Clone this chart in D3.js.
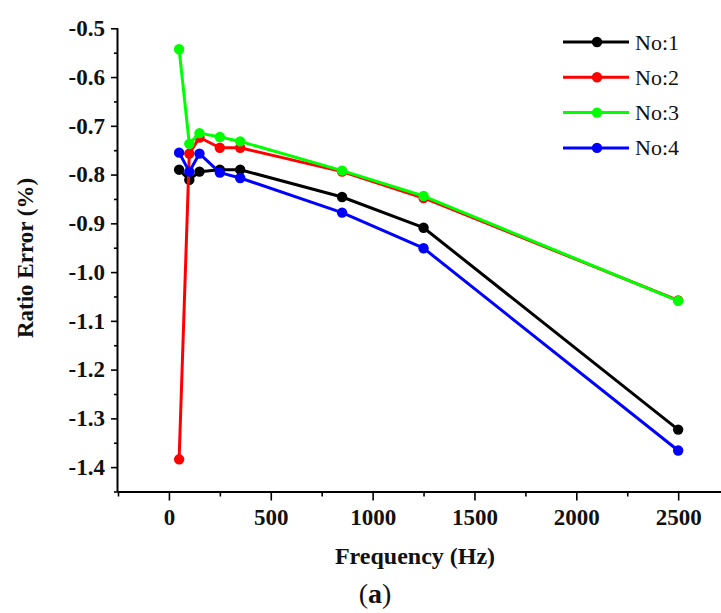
<!DOCTYPE html>
<html>
<head>
<meta charset="utf-8">
<script src="https://cdn.jsdelivr.net/npm/d3@7"></script>
<style>
  html, body { margin: 0; padding: 0; background: #fff; }
  svg { display: block; }
</style>
</head>
<body>
<svg id="chart" width="721" height="613"></svg>
<script>
const frequencies = [50, 100, 150, 250, 350, 850, 1250, 2500];
const seriesNames = ["No:1", "No:2", "No:3", "No:4"];
const seriesColors = ["#000000", "#ff0000", "#00ff00", "#0000ff"];
const no1 = [-0.790, -0.811, -0.794, -0.790, -0.790, -0.846, -0.909, -1.323];
const no2 = [-1.384, -0.757, -0.724, -0.745, -0.745, -0.794, -0.848, -1.058];
const no3 = [-0.543, -0.737, -0.715, -0.723, -0.732, -0.792, -0.844, -1.059];
const no4 = [-0.755, -0.794, -0.757, -0.796, -0.807, -0.878, -0.951, -1.366];
const seriesValues = [no1, no2, no3, no4];
const xMajorTicks = [0, 500, 1000, 1500, 2000, 2500];
const xMinorTicks = [-250, 250, 750, 1250, 1750, 2250, 2750];
const yMajorTicks = [-0.5, -0.6, -0.7, -0.8, -0.9, -1.0, -1.1, -1.2, -1.3, -1.4];
const yMinorTicks = [-0.55, -0.65, -0.75, -0.85, -0.95, -1.05, -1.15, -1.25, -1.35, -1.45];

const svg = d3.select("#chart");
const mLeft = 118, mTop = 28.3, mBottom = 491.5;
const x = d3.scaleLinear().domain([-250, 2750]).range([mLeft, mLeft + 3000 * 0.2037]);
const y = d3.scaleLinear().domain([-1.45, -0.5]).range([mBottom, mTop]);

const fontSerif = "'Liberation Serif', 'Times New Roman', serif";

// X axis
const gx = svg.append("g").attr("transform", `translate(0,${mBottom})`);
gx.call(d3.axisBottom(x).tickValues(xMinorTicks).tickSize(5).tickFormat(""));
gx.call(g => g.select(".domain").remove());
const gxM = svg.append("g").attr("transform", `translate(0,${mBottom})`);
gxM.call(d3.axisBottom(x).tickValues(xMajorTicks).tickSize(9).tickPadding(8).tickFormat(d3.format("d")));
gxM.select(".domain").attr("d", `M${mLeft},0.5H${x(2750)}`).attr("stroke-width", 2);
gxM.selectAll("text")
  .attr("font-family", fontSerif).attr("font-weight", "bold").attr("font-size", 23).attr("fill", "#111");

// Y axis
const gy = svg.append("g").attr("transform", `translate(${mLeft},0)`);
gy.call(d3.axisLeft(y).tickValues(yMinorTicks).tickSize(4).tickFormat(""));
gy.call(g => g.select(".domain").remove());
const gyM = svg.append("g").attr("transform", `translate(${mLeft},0)`);
gyM.call(d3.axisLeft(y).tickValues(yMajorTicks).tickSize(7).tickPadding(6).tickFormat(d => d3.format(".1f")(d).replace("−", "-")));
gyM.select(".domain").attr("d", `M-0.5,${mTop}V${mBottom}`).attr("stroke-width", 2);
gyM.selectAll("text")
  .attr("font-family", fontSerif).attr("font-weight", "bold").attr("font-size", 23).attr("fill", "#111");
svg.selectAll("g .tick line").attr("stroke-width", 1.6);

// Axis titles
svg.append("text")
  .attr("x", 415).attr("y", 564)
  .attr("text-anchor", "middle")
  .attr("font-family", fontSerif).attr("font-weight", "bold").attr("font-size", 24)
  .attr("fill", "#111")
  .text("Frequency (Hz)");
svg.append("text")
  .attr("transform", "translate(33,258) rotate(-90)")
  .attr("text-anchor", "middle")
  .attr("font-family", fontSerif).attr("font-weight", "bold").attr("font-size", 23)
  .attr("fill", "#111")
  .text("Ratio Error (%)");
const cap = svg.append("text")
  .attr("x", 375).attr("y", 603)
  .attr("text-anchor", "middle")
  .attr("font-family", fontSerif).attr("font-size", 28).attr("fill", "#111");
cap.append("tspan").text("(");
cap.append("tspan").attr("font-weight", "bold").text("a");
cap.append("tspan").text(")");

// Series
const line = d3.line().x((d, i) => x(frequencies[i])).y(d => y(d));
seriesValues.forEach((vals, si) => {
  const g = svg.append("g");
  g.append("path")
    .attr("d", line(vals))
    .attr("fill", "none")
    .attr("stroke", seriesColors[si])
    .attr("stroke-width", 3)
    .attr("stroke-linejoin", "round");
  g.selectAll("circle").data(vals).join("circle")
    .attr("cx", (d, i) => x(frequencies[i]))
    .attr("cy", d => y(d))
    .attr("r", 5.2)
    .attr("fill", seriesColors[si]);
});

// Legend
const legend = svg.append("g");
seriesNames.forEach((name, i) => {
  const ly = 42 + i * 35.3;
  legend.append("line")
    .attr("x1", 563).attr("x2", 629).attr("y1", ly).attr("y2", ly)
    .attr("stroke", seriesColors[i]).attr("stroke-width", 3);
  legend.append("circle")
    .attr("cx", 597).attr("cy", ly).attr("r", 5.2).attr("fill", seriesColors[i]);
  legend.append("text")
    .attr("x", 635).attr("y", ly + 7.5)
    .attr("font-family", fontSerif).attr("font-size", 22).attr("fill", "#111")
    .text(name);
});
</script>
</body>
</html>
